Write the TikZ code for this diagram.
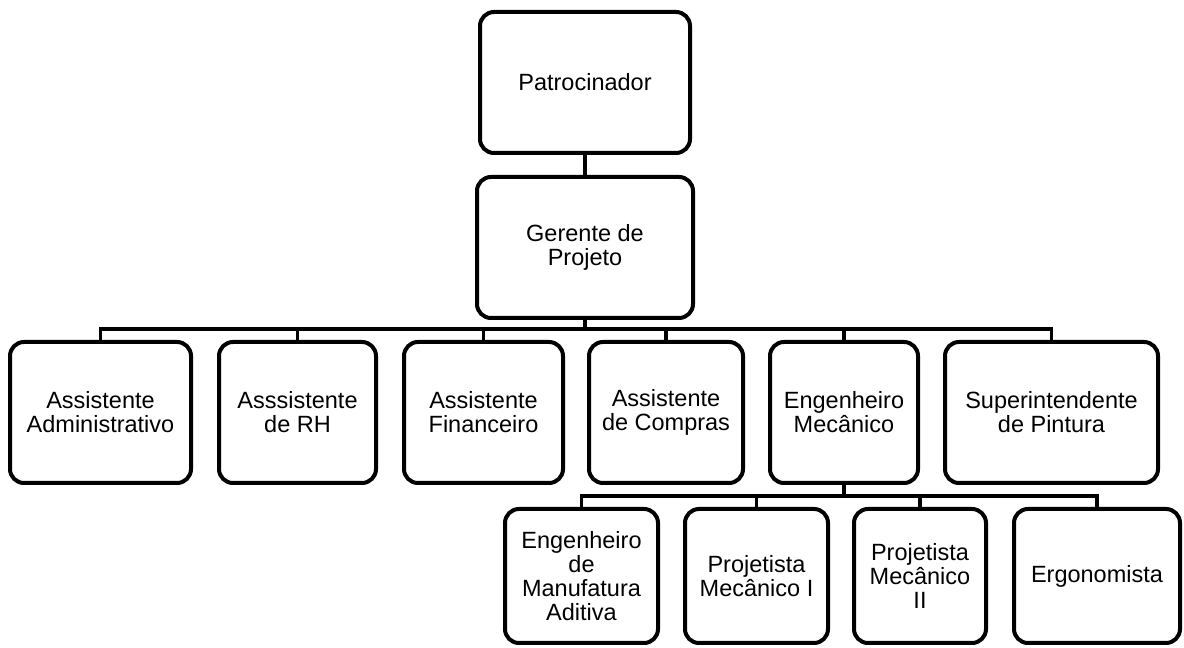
\documentclass[tikz,border=0pt]{standalone}
\usepackage{fontspec}
\setmainfont{Liberation Sans}
\usepackage{tikz}

\begin{document}
\begin{tikzpicture}[x = 1pt, y = 1pt,
    cargo/.style = {draw, line width = 4pt, rounded corners = 14pt, align = center,
                    inner sep = 0pt, minimum height = 141pt,
                    font = \fontsize{23.5}{24}\selectfont},
    baixo/.style = {cargo, minimum height = 134pt},
    link/.style = {line width = 3.5pt}]
        \useasboundingbox (0,0) rectangle (1184,648);
        \node[cargo, minimum width = 210pt] (patro) at (585,565.5) {Patrocinador};
        \node[cargo, minimum width = 216pt] (gerente) at (585,400.5) {Gerente de\\Projeto};

        \node[cargo, minimum width = 181pt] (admin) at (100.5,235.5) {Assistente\\Administrativo};
        \node[cargo, minimum width = 157pt] (rh) at (297.5,235.5) {Asssistente\\de RH};
        \node[cargo, minimum width = 159pt] (financ) at (483.5,235.5) {Assistente\\Financeiro};
        \node[cargo, minimum width = 154pt] (compras) at (666,235.5) {Assistente\\de Compras};
        \node[cargo, minimum width = 148pt] (mecanico) at (844,235.5) {Engenheiro\\Mecânico};
        \node[cargo, minimum width = 213pt] (pintura) at (1051.5,235.5) {Superintendente\\de Pintura};

        \node[baixo, minimum width = 153pt] (aditiva) at (581.5,72) {Engenheiro\\de\\Manufatura\\Aditiva};
        \node[baixo, minimum width = 143pt] (projA) at (756.5,72) {Projetista\\Mecânico I};
        \node[baixo, minimum width = 132pt] (projB) at (920,72) {Projetista\\Mecânico\\II};
        \node[baixo, minimum width = 166pt] (ergo) at (1097,72) {Ergonomista};

        \coordinate (barra1) at (585,319);
        \coordinate (barra2) at (844,152);
        \draw[link] (patro) -- (gerente);
        \draw[link] (gerente) -- (barra1);
        \foreach \c in {admin, rh, financ, compras, mecanico, pintura}
          \draw[link] (barra1) -| (\c.north);
        \draw[link] (mecanico) -- (barra2);
        \foreach \c in {aditiva, projA, projB, ergo}
          \draw[link] (barra2) -| (\c.north);
      \end{tikzpicture}
\end{document}
